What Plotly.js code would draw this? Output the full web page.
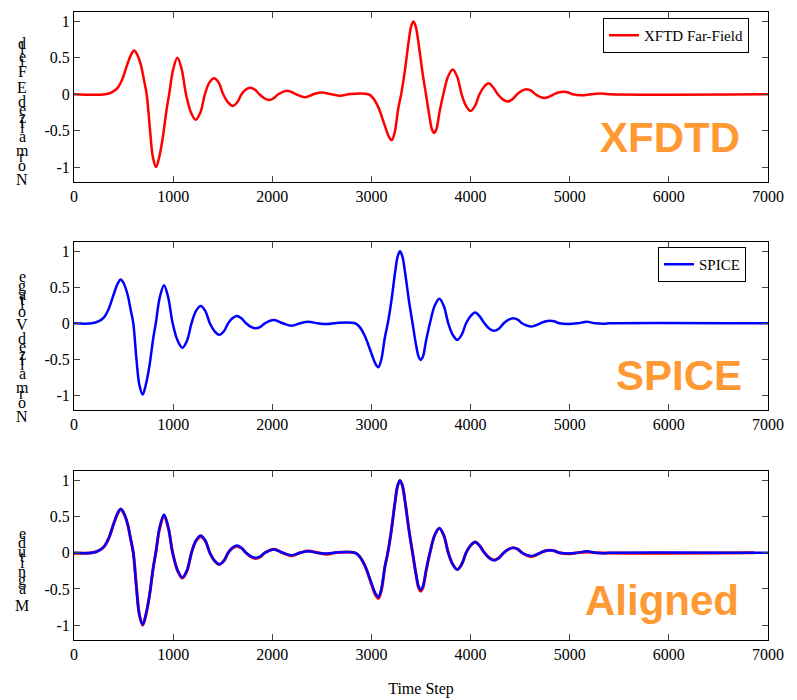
<!DOCTYPE html>
<html>
<head>
<meta charset="utf-8">
<script src="https://cdn.plot.ly/plotly-3.0.1.min.js"></script>
<style>html,body{margin:0;padding:0;background:#fff;}#chart{width:797px;height:700px;}</style>
</head>
<body>
<div id="chart"></div>
<script>
// ---- Data ----
// XFDTD far-field (time step, normalized E field)
const xfdtdT = [0,315,385,435,485,535,575,606,635,675,705,733,765,795,828,860,895,935,960,1000,1043,1085,1130,1180,1228,1275,1320,1365,1413,1460,1505,1553,1601,1647,1690,1733,1776,1823,1870,1920,1968,2015,2060,2152,2240,2331,2415,2499,2595,2690,2785,2969,3015,3070,3135,3175,3205,3235,3270,3300,3335,3375,3400,3423,3447,3475,3515,3550,3585,3610,3632,3655,3685,3725,3775,3820,3865,3910,3955,4001,4045,4090,4135,4180,4225,4275,4325,4372,4420,4470,4520,4566,4610,4655,4700,4745,4790,4840,4885,4936,4985,5030,5121,5215,5307,5395,7000];
const xfdtdV = [0,0,0.03,0.08,0.2,0.4,0.54,0.60,0.55,0.4,0.2,0,-0.46,-0.86,-1.0,-0.86,-0.6,-0.2,0,0.34,0.50,0.35,0,-0.25,-0.35,-0.25,0,0.16,0.22,0.16,0,-0.11,-0.16,-0.11,0,0.065,0.09,0.065,0,-0.055,-0.08,-0.055,0,0.05,0,-0.04,0,0.025,0,-0.02,0.005,0,-0.05,-0.18,-0.43,-0.58,-0.63,-0.52,-0.2,0,0.3,0.72,0.93,1.0,0.93,0.7,0.3,0,-0.3,-0.48,-0.53,-0.48,-0.26,0,0.25,0.34,0.24,0,-0.16,-0.23,-0.16,0,0.1,0.15,0.1,0,-0.07,-0.10,-0.07,0,0.05,0.07,0.05,0,-0.035,-0.05,-0.035,0,0.025,0.035,0.025,0,-0.015,0,0.01,0,0];
// SPICE (time step, normalized voltage)
const spiceT = [0,180,250,300,350,400,440,471,500,540,570,598,630,660,693,725,760,800,825,865,908,950,995,1045,1093,1140,1185,1230,1278,1325,1370,1418,1466,1512,1555,1598,1641,1688,1735,1785,1833,1880,1925,2017,2105,2196,2280,2364,2460,2555,2650,2834,2880,2935,3000,3040,3070,3100,3135,3165,3200,3240,3265,3288,3312,3340,3380,3415,3450,3475,3497,3520,3550,3590,3640,3685,3730,3775,3820,3866,3910,3955,4000,4045,4090,4140,4190,4237,4285,4335,4385,4431,4475,4520,4565,4610,4655,4705,4750,4801,4850,4895,4986,5080,5172,5260,5356,5400,7000];
const spiceV = [0,0,0.03,0.08,0.2,0.4,0.55,0.61,0.56,0.4,0.2,0,-0.5,-0.86,-0.99,-0.85,-0.6,-0.2,0,0.36,0.53,0.36,0,-0.24,-0.34,-0.24,0,0.17,0.24,0.17,0,-0.11,-0.16,-0.11,0,0.07,0.10,0.07,0,-0.05,-0.07,-0.05,0,0.045,0,-0.035,0,0.02,0,-0.01,0.005,0,-0.05,-0.18,-0.42,-0.56,-0.61,-0.5,-0.2,0,0.3,0.72,0.93,1.0,0.93,0.7,0.3,0,-0.3,-0.46,-0.51,-0.46,-0.25,0,0.25,0.34,0.24,0,-0.16,-0.23,-0.16,0,0.1,0.15,0.1,0,-0.075,-0.105,-0.075,0,0.05,0.07,0.05,0,-0.03,-0.045,-0.03,0,0.025,0.035,0.025,0,-0.01,0,0.02,0,-0.005,0,0];
// time shift applied to XFDTD for alignment
const alignShift = 135;

const legendNames = ['XFTD Far-Field', 'SPICE'];
const panelLabels = ['XFDTD', 'SPICE', 'Aligned'];
const yTitles = ['Normalized E Field', 'Normalized Voltage', 'Magnitude'];
const xTicks = [0,1000,2000,3000,4000,5000,6000,7000];
const yTicks = [-1,-0.5,0,0.5,1];
const yTickText = ['-1','-0.5','0','0.5','1'];

// ---- Layout helpers ----
const W = 797, H = 700;
const mL = 74, mR = 29, mT = 12, mB = 60;
const pw = W - mL - mR, ph = H - mT - mB;
const px2x = p => (p - mL) / pw;
const py2y = p => (H - mB - p) / ph;

const RED = '#ff0000', BLUE = '#0000ff', ORANGE = '#ff9933';
const serif = 'Liberation Serif, Times New Roman, serif';

const traces = [
  {x: xfdtdT, y: xfdtdV, xaxis: 'x', yaxis: 'y', mode: 'lines', name: legendNames[0],
   line: {color: RED, width: 2.5, shape: 'spline', smoothing: 1}, legend: 'legend'},
  {x: spiceT, y: spiceV, xaxis: 'x2', yaxis: 'y2', mode: 'lines', name: legendNames[1],
   line: {color: BLUE, width: 2.5, shape: 'spline', smoothing: 1}, legend: 'legend2'},
  {x: xfdtdT.map(t => t - alignShift), y: xfdtdV, xaxis: 'x3', yaxis: 'y3', mode: 'lines', showlegend: false,
   line: {color: RED, width: 3, shape: 'spline', smoothing: 1}},
  {x: spiceT, y: spiceV, xaxis: 'x3', yaxis: 'y3', mode: 'lines', showlegend: false,
   line: {color: BLUE, width: 2.5, shape: 'spline', smoothing: 1}}
];

function xAx(anchor, withTitle) {
  const a = {anchor: anchor, range: [0, 7000], tickvals: xTicks, ticks: 'inside', ticklen: 6,
    showline: true, linecolor: '#000', linewidth: 1, mirror: 'ticks', showgrid: false, zeroline: false,
    tickfont: {family: serif, size: 16, color: '#000'}, automargin: false};
  if (withTitle) a.title = {text: 'Time Step', font: {family: serif, size: 16, color: '#000'}, standoff: 20};
  return a;
}
function yAx(anchor, domain) {
  return {anchor: anchor, domain: domain, range: [-1.205, 1.13], tickvals: yTicks, ticktext: yTickText,
    ticks: 'inside', ticklen: 6, showline: true, linecolor: '#000', linewidth: 1, mirror: 'ticks',
    showgrid: false, zeroline: false, tickfont: {family: serif, size: 16, color: '#000'}, automargin: false};
}

const annotations = [];
// Big orange panel labels
const bigLabelPos = [[742, 137], [744, 375], [741, 600]];
panelLabels.forEach((t, i) => {
  annotations.push({text: t, xref: 'paper', yref: 'paper', x: px2x(bigLabelPos[i][0]), y: py2y(bigLabelPos[i][1]),
    xanchor: 'right', yanchor: 'middle', showarrow: false,
    font: {family: 'Liberation Sans, Arial, sans-serif', size: 42, color: ORANGE, weight: 'bold'}});
});
// Stacked (un-rotated) y-axis title glyphs, spaced by the text's advance widths
const ctx = document.createElement('canvas').getContext('2d');
ctx.font = "18.4px 'Liberation Serif'";
const stackBottom = [179, 416, 605];
yTitles.forEach((t, i) => {
  for (let k = 0; k < t.length; k++) {
    const ch = t[k];
    if (ch === ' ') continue;
    const off = ctx.measureText(t.slice(0, k)).width;
    annotations.push({text: ch, xref: 'paper', yref: 'paper', x: px2x(22), y: py2y(stackBottom[i] - off),
      xanchor: 'center', yanchor: 'middle', showarrow: false,
      font: {family: serif, size: 16, color: '#000'}});
  }
});

const layout = {
  width: W, height: H,
  margin: {l: mL, r: mR, t: mT, b: mB},
  paper_bgcolor: '#fff', plot_bgcolor: '#fff',
  xaxis: xAx('y', false), yaxis: yAx('x', [py2y(182), 1]),
  xaxis2: xAx('y2', false), yaxis2: yAx('x2', [py2y(410), py2y(242)]),
  xaxis3: xAx('y3', true), yaxis3: yAx('x3', [0, py2y(471)]),
  legend: {x: px2x(603), y: py2y(18), xanchor: 'left', yanchor: 'top', bgcolor: '#fff',
    bordercolor: '#000', borderwidth: 1, font: {family: serif, size: 15, color: '#000'}, itemwidth: 30},
  legend2: {x: px2x(658), y: py2y(247), xanchor: 'left', yanchor: 'top', bgcolor: '#fff',
    bordercolor: '#000', borderwidth: 1, font: {family: serif, size: 15, color: '#000'}, itemwidth: 30},
  annotations: annotations,
  showlegend: true
};

Plotly.newPlot('chart', traces, layout, {displayModeBar: false, staticPlot: true});
</script>
</body>
</html>
